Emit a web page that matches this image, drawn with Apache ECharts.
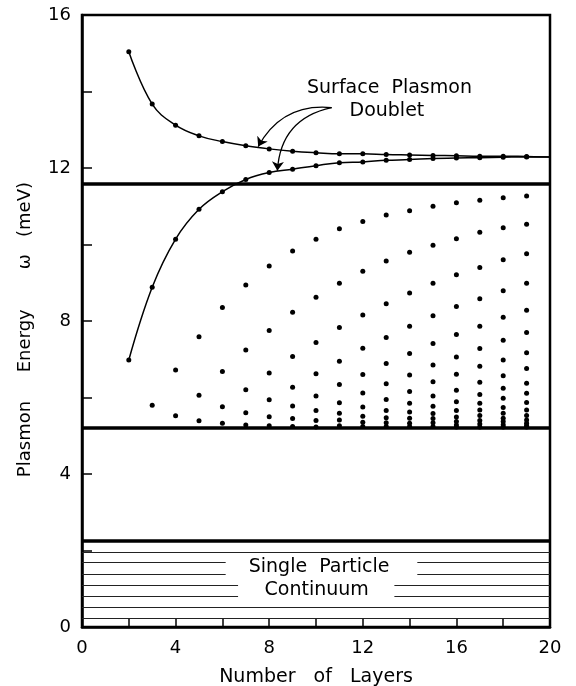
<!DOCTYPE html>
<html>
<head>
<meta charset="utf-8">
<script src="https://cdn.jsdelivr.net/npm/echarts@6/dist/echarts.min.js"></script>
<style>html,body{margin:0;padding:0;background:#fff;}#chart{width:576px;height:686px;}</style>
</head>
<body>
<div id="chart"></div>
<script>
// ---- data ----
const layers = [2,3,4,5,6,7,8,9,10,11,12,13,14,15,16,17,18,19,20];
const upperSurface = [15.04,13.67,13.12,12.84,12.69,12.58,12.50,12.44,12.40,12.37,12.37,12.35,12.34,12.33,12.32,12.31,12.31,12.30,12.29];
const lowerSurface = [6.98,8.88,10.14,10.92,11.38,11.70,11.88,11.97,12.06,12.14,12.16,12.20,12.22,12.25,12.26,12.27,12.28,12.29,12.29];
// bulk plasmon modes for n = 3 .. 19 layers
const bulkLayers = [3,4,5,6,7,8,9,10,11,12,13,14,15,16,17,18,19];
const bulkModes = [
  [5.80],
  [6.72,5.52],
  [7.59,6.06,5.39],
  [8.35,6.68,5.76,5.33],
  [8.94,7.24,6.20,5.60,5.28],
  [9.44,7.75,6.64,5.94,5.50,5.26],
  [9.83,8.23,7.07,6.27,5.78,5.45,5.24],
  [10.14,8.62,7.44,6.62,6.04,5.66,5.40,5.23],
  [10.41,8.99,7.83,6.95,6.34,5.86,5.59,5.41,5.26],
  [10.60,9.30,8.16,7.29,6.60,6.12,5.75,5.51,5.35,5.24],
  [10.77,9.57,8.45,7.57,6.89,6.36,5.95,5.66,5.47,5.34,5.24],
  [10.88,9.80,8.73,7.86,7.15,6.59,6.16,5.85,5.62,5.46,5.33,5.24],
  [11.00,9.98,8.99,8.14,7.41,6.85,6.41,6.04,5.77,5.58,5.45,5.34,5.24],
  [11.09,10.15,9.21,8.38,7.65,7.06,6.61,6.19,5.89,5.66,5.49,5.37,5.28,5.23],
  [11.16,10.32,9.40,8.58,7.86,7.28,6.82,6.40,6.08,5.85,5.67,5.53,5.40,5.31,5.23],
  [11.22,10.44,9.60,8.79,8.10,7.50,6.98,6.57,6.24,5.98,5.74,5.59,5.46,5.37,5.29,5.23],
  [11.27,10.53,9.76,8.99,8.28,7.70,7.17,6.76,6.37,6.11,5.87,5.67,5.53,5.41,5.33,5.27,5.23]
];
const bandEdges = [11.6, 5.2, 2.25];
const hatchLevels = [1.96, 1.69, 1.39, 1.10, 0.80, 0.51, 0.235];
const hatchGapStart = [null, 6.14, 6.14, 6.67, 6.67, null, null];
const hatchGapEnd   = [null, 14.33, 14.33, 13.35, 13.35, null, null];
const xTickLabels = [0,4,8,12,16,20];
const yTickLabels = [0,4,8,12,16];
const labelTexts = ['Surface  Plasmon', 'Doublet', 'Single  Particle', 'Continuum'];
const labelX = [13.14, 13.03, 10.13, 10.03];
const labelY = [14.10, 13.49, 1.56, 0.96];
const arrowFrom = [[10.67, 13.58], [10.67, 13.58]];
const arrowTo = [[7.53, 12.56], [8.35, 11.93]];
const arrowBend = [-0.33, -0.38];

// ---- build ----
const FONT = 'DejaVu Sans';
const upperData = layers.map((n, i) => n === 20 ? {value: [n, upperSurface[i]], symbol: 'none'} : [n, upperSurface[i]]);
const lowerData = layers.map((n, i) => n === 20 ? {value: [n, lowerSurface[i]], symbol: 'none'} : [n, lowerSurface[i]]);
const bulkData = [];
bulkLayers.forEach((n, i) => bulkModes[i].forEach(v => bulkData.push([n, v])));

const hatchData = [];
hatchLevels.forEach((y, i) => {
  if (hatchGapStart[i] == null) {
    hatchData.push({coords: [[0, y], [20, y]]});
  } else {
    hatchData.push({coords: [[0, y], [hatchGapStart[i], y]]});
    hatchData.push({coords: [[hatchGapEnd[i], y], [20, y]]});
  }
});
const bandData = bandEdges.map(y => ({coords: [[0, y], [20, y]]}));
const arrowData = arrowFrom.map((p, i) => ({coords: [p, arrowTo[i]], lineStyle: {curveness: arrowBend[i]}}));
const textData = labelTexts.map((t, i) => ({name: t, value: [labelX[i], labelY[i]]}));

const chart = echarts.init(document.getElementById('chart'), null, {renderer: 'canvas'});
chart.setOption({
  animation: false,
  backgroundColor: '#fff',
  textStyle: {fontFamily: FONT, color: '#000'},
  grid: {left: 82, top: 15, right: 26, bottom: 59, show: true, borderColor: '#000', borderWidth: 2.5,
    backgroundColor: 'transparent', containLabel: false, outerBoundsMode: 'none'},
  xAxis: {
    type: 'value', min: 0, max: 20, interval: 2,
    name: 'Number   of   Layers', nameLocation: 'middle', nameGap: 41,
    nameTextStyle: {fontFamily: FONT, fontSize: 19, color: '#000'},
    axisLine: {lineStyle: {color: '#000', width: 2.5}},
    axisTick: {inside: true, length: 9, lineStyle: {color: '#000', width: 1.5}},
    axisLabel: {fontFamily: FONT, fontSize: 18, color: '#000', margin: 12,
      formatter: v => xTickLabels.indexOf(v) >= 0 ? String(v) : ''},
    splitLine: {show: false}
  },
  yAxis: {
    type: 'value', min: 0, max: 16, interval: 2,
    name: 'Plasmon     Energy       ω   (meV)   ', nameLocation: 'middle', nameGap: 48,
    nameTextStyle: {fontFamily: FONT, fontSize: 18, color: '#000'},
    axisLine: {lineStyle: {color: '#000', width: 2.5}},
    axisTick: {inside: true, length: 10, lineStyle: {color: '#000', width: 1.5}},
    axisLabel: {fontFamily: FONT, fontSize: 18, color: '#000', margin: 11,
      formatter: v => yTickLabels.indexOf(v) >= 0 ? String(v) : ''},
    splitLine: {show: false}
  },
  series: [
    {type: 'lines', coordinateSystem: 'cartesian2d', data: bandData, silent: true,
      lineStyle: {color: '#000', width: 3.5, opacity: 1}},
    {type: 'lines', coordinateSystem: 'cartesian2d', data: hatchData, silent: true,
      lineStyle: {color: '#222', width: 1, opacity: 1}},
    {type: 'line', data: upperData, smooth: 0.4, symbol: 'circle', symbolSize: 5,
      lineStyle: {color: '#000', width: 1.5}, itemStyle: {color: '#000', opacity: 1}},
    {type: 'line', data: lowerData, smooth: 0.4, symbol: 'circle', symbolSize: 5,
      lineStyle: {color: '#000', width: 1.5}, itemStyle: {color: '#000', opacity: 1}},
    {type: 'scatter', data: bulkData, symbol: 'circle', symbolSize: 5, itemStyle: {color: '#000', opacity: 1}},
    {type: 'lines', coordinateSystem: 'cartesian2d', data: arrowData, silent: true,
      symbol: ['none', 'arrow'], symbolSize: [0, 9],
      lineStyle: {color: '#000', width: 1.3, opacity: 1}},
    {type: 'scatter', data: textData, symbolSize: 0, silent: true,
      itemStyle: {opacity: 1},
      label: {show: true, position: 'inside', formatter: p => p.name, opacity: 1,
        fontFamily: FONT, fontSize: 19, color: '#000', backgroundColor: 'transparent'}}
  ]
});
</script>
</body>
</html>
